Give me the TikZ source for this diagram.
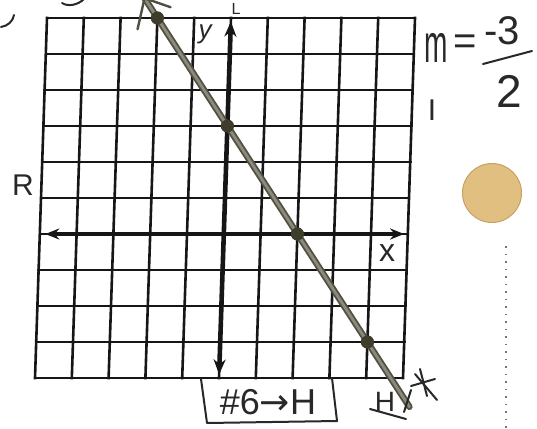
\documentclass[tikz,border=0pt]{standalone}
\usepackage{fontspec}
\setmainfont{Liberation Sans}
\newfontfamily\symfont{DejaVu Sans}
\usetikzlibrary{arrows.meta}
\definecolor{ink}{RGB}{22,22,22}
\definecolor{pencilout}{RGB}{82,80,64}
\definecolor{pencilin}{RGB}{140,138,126}
\definecolor{dotc}{RGB}{62,60,42}
\definecolor{coinfill}{RGB}{224,191,128}
\definecolor{coinedge}{RGB}{200,162,98}
\definecolor{hand}{RGB}{40,40,40}
\begin{document}
\begin{tikzpicture}[x=1pt,y=-1pt,
  gridline/.style={draw=ink,line width=2.6pt,line cap=rect},
  axisline/.style={draw=ink,line width=3.4pt,arrows={Stealth[length=14pt,width=11pt]-Stealth[length=14pt,width=11pt]}},
  yaxisline/.style={draw=ink,line width=4.6pt,arrows={Stealth[length=15pt,width=12pt]-Stealth[length=15pt,width=12pt]}},
  graphout/.style={draw=pencilout,line width=6.5pt,line cap=round},
  graphin/.style={draw=pencilin,line width=2.8pt,line cap=round},
  graphbarb/.style={draw=pencilout,line width=2.4pt,line cap=round},
  plotpt/.style={circle,fill=dotc,minimum size=13pt,inner sep=0pt},
  handline/.style={draw=hand,line width=2pt,line cap=round,line join=round},
  lbl/.style={text=hand,inner sep=0pt,font=\fontsize{30}{30}\selectfont},
  speck/.style={draw=black!55,line width=1.6pt,dash pattern=on 1.5pt off 6pt}]
\useasboundingbox (0,0) rectangle (537,428);
% grid in its own (slightly sheared) system
\begin{scope}[shift={(47pt,-18pt)},x={(36.8pt,0pt)},y={(-1.2pt,-36pt)}]
  \foreach \i in {0,...,10} \draw[gridline] (\i,0) -- (\i,10);
  \foreach \j in {0,...,10} \draw[gridline] (0,\j) -- (10,\j);
  \coordinate (xl) at (0.15,6);
  \coordinate (xr) at (9.9,6);
  \coordinate (yt) at (5,0.1);
  \coordinate (yb) at (5,9.9);
  \coordinate (top) at (2.633,-0.55);
  \coordinate (bot) at (10.2,10.8);
  \node[plotpt] (p1) at (3,0) {};
  \node[plotpt] (p2) at (5,3) {};
  \node[plotpt] (p3) at (7,6) {};
  \node[plotpt] (p4) at (9,9) {};
\end{scope}
\draw[axisline] (xl) -- (xr);
\draw[yaxisline] (yb) -- (yt);
% the graphed line
\draw[graphout] (top) -- (bot);
\draw[graphin] (top) -- (bot);
\draw[graphbarb] (top) +(-7,31) -- (top) -- +(26,9);
\foreach \p in {p1,p2,p3,p4} \node[plotpt] at (\p) {};
% axis labels
\node[lbl,font=\fontsize{26}{26}\selectfont\itshape] (ylab) at (205,34) {y};
\node[lbl,font=\fontsize{32}{32}\selectfont] (xlab) at (387,253) {x};
% side letters
\node[lbl,anchor=base] (R) at (23,195) {R};
\node[lbl,anchor=base,font=\fontsize{16}{16}\selectfont] (L) at (236,15) {L};
\node[lbl,anchor=base] (I) at (432,120) {I};
\node[lbl,anchor=base,font=\fontsize{28}{28}\selectfont] (H) at (385,411) {H};
\draw[handline] (370,409) -- (406,419);
\draw[handline] (404,412) -- (411,390);
% hand-drawn star mark
\coordinate (star) at (424,384);
\draw[handline] (star) +(-4,-15) -- +(3,12);
\draw[handline] (star) +(-13,2) -- +(11,-5);
\draw[handline] (star) +(-9,-10) -- +(13,16);
% slope
\node[text=hand,inner sep=0pt,anchor=base,font=\fontsize{54}{54}\selectfont,xscale=0.52,transform shape] (m) at (436,63) {m};
\node[text=hand,inner sep=0pt,anchor=base,font=\fontsize{40}{40}\selectfont] (eq) at (465,55) {=};
\node[text=hand,inner sep=0pt,anchor=base,font=\fontsize{40}{40}\selectfont] (num) at (502,45) {-3};
\draw[handline] (483,64) -- (532,51);
\node[text=hand,inner sep=0pt,anchor=base,font=\fontsize{46}{46}\selectfont] (den) at (509,107) {2};
% label box
\draw[handline] (201,379) -- (207,423) -- (337,421) -- (332,378);
\node[text=hand,inner sep=0pt,anchor=base,font=\fontsize{36}{36}\selectfont] (tag) at (268,414) {\#6{\symfont→}H};
% coin
\node[circle,fill=coinfill,draw=coinedge,line width=1pt,minimum size=59pt,inner sep=0pt] (coin) at (492,193) {};
% stray marks
\draw[handline] (1,27) .. controls (8,26) and (13,21) .. (14,15);
\draw[handline] (62,3) .. controls (68,7) and (78,5) .. (84,-1);
\draw[speck] (506,246) -- (506,428);
\end{tikzpicture}
\end{document}
